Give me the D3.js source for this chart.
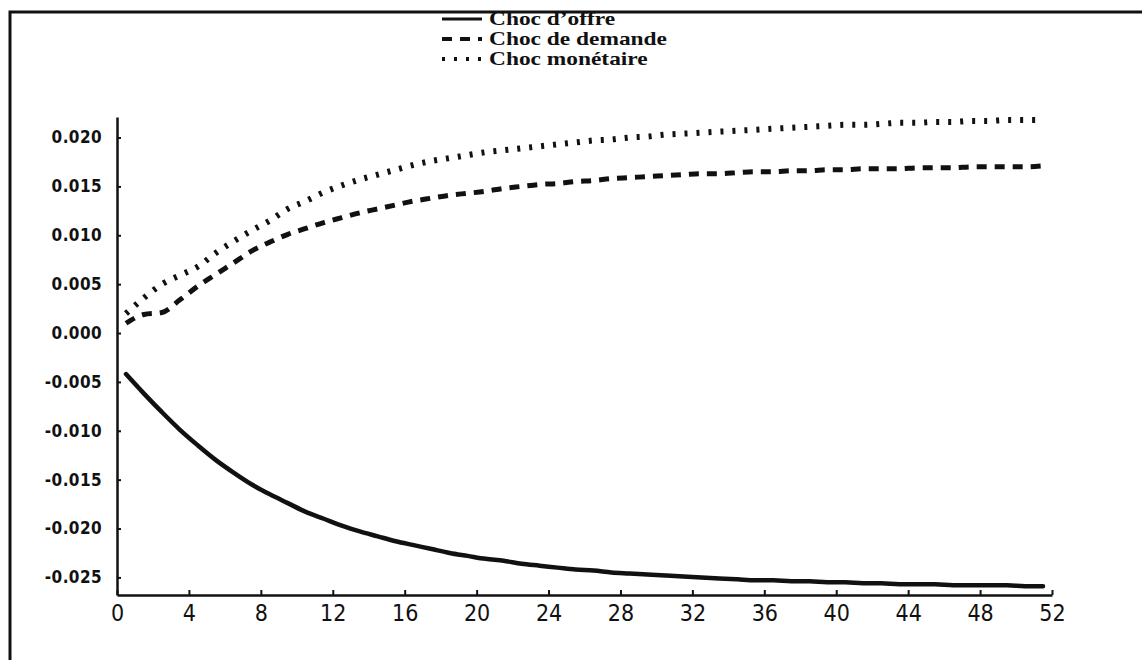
<!DOCTYPE html>
<html>
<head>
<meta charset="utf-8">
<script src="https://cdn.jsdelivr.net/npm/d3@7"></script>
<style>
  body { margin: 0; background: #fff; }
  svg { display: block; }
</style>
</head>
<body>
<div id="chart"></div>
<script>
// periods (quarters after the shock)
const periods = d3.range(52).map(i => i + 0.5);

// Choc d'offre
const offre = [
  -0.0042, -0.0062, -0.0081, -0.0099, -0.0115, -0.0130, -0.0143, -0.0155, -0.0165, -0.0174,
  -0.0183, -0.0190, -0.0197, -0.0203, -0.0208, -0.0213, -0.0217, -0.0221, -0.0225, -0.0228,
  -0.0231, -0.0233, -0.0236, -0.0238, -0.0240, -0.0242, -0.0243, -0.0245, -0.0246, -0.0247,
  -0.0248, -0.0249, -0.0250, -0.0251, -0.0252, -0.0253, -0.0253, -0.0254, -0.0254, -0.0255,
  -0.0255, -0.0256, -0.0256, -0.0257, -0.0257, -0.0257, -0.0258, -0.0258, -0.0258, -0.0258,
  -0.0259, -0.0259
];

// Choc de demande
const demande = [
  0.0010, 0.0019, 0.0021, 0.0034, 0.0048, 0.0060, 0.0072, 0.0084, 0.0093, 0.0101,
  0.0107, 0.0113, 0.0118, 0.0123, 0.0127, 0.0131, 0.0135, 0.0138, 0.0141, 0.0143,
  0.0145, 0.0148, 0.0150, 0.0152, 0.0153, 0.0155, 0.0156, 0.0158, 0.0159, 0.0160,
  0.0161, 0.0162, 0.0163, 0.0163, 0.0164, 0.0165, 0.0165, 0.0166, 0.0166, 0.0167,
  0.0167, 0.0168, 0.0168, 0.0168, 0.0169, 0.0169, 0.0169, 0.0170, 0.0170, 0.0170,
  0.0170, 0.0171
];

// Choc monétaire
const monetaire = [
  0.0020, 0.0036, 0.0050, 0.0059, 0.0068, 0.0082, 0.0094, 0.0105, 0.0115, 0.0127,
  0.0135, 0.0144, 0.0151, 0.0157, 0.0162, 0.0167, 0.0172, 0.0176, 0.0179, 0.0182,
  0.0185, 0.0187, 0.0189, 0.0191, 0.0193, 0.0195, 0.0197, 0.0198, 0.0200, 0.0201,
  0.0203, 0.0204, 0.0205, 0.0206, 0.0207, 0.0208, 0.0209, 0.0210, 0.0211, 0.0212,
  0.0213, 0.0213, 0.0214, 0.0215, 0.0215, 0.0216, 0.0216, 0.0217, 0.0217, 0.0218,
  0.0218, 0.0218
];

const seriesNames = ["Choc d\u2019offre", "Choc de demande", "Choc mon\u00e9taire"];
const xTicks = d3.range(0, 53, 4);
const yTicks = [-0.025, -0.020, -0.015, -0.010, -0.005, 0.000, 0.005, 0.010, 0.015, 0.020];

const width = 1142, height = 660;

const svg = d3.select("#chart")
  .append("svg")
  .attr("width", width)
  .attr("height", height);

// frame (scan border, top and left)
svg.append("path")
  .attr("d", "M10,660 L10,12 L1142,12")
  .attr("fill", "none")
  .attr("stroke", "#111")
  .attr("stroke-width", 3);

// Scales
const x = d3.scaleLinear().domain([0, 52]).range([117, 1052]);
const y = d3.scaleLinear().domain([-0.0268, 0.0221]).range([595, 117]);

// Axes
const xAxis = svg.append("g")
  .attr("transform", `translate(0,${y.range()[0]})`)
  .call(d3.axisBottom(x).tickValues(xTicks).tickSizeInner(-5).tickSizeOuter(0).tickPadding(10).tickFormat(d3.format("d")));

const yAxis = svg.append("g")
  .attr("transform", `translate(${x.range()[0]},0)`)
  .call(d3.axisLeft(y).tickValues(yTicks).tickSizeInner(-4).tickSizeOuter(0).tickPadding(15).tickFormat(d3.format(".3f")));

[xAxis, yAxis].forEach(g => {
  g.select(".domain").attr("stroke", "#111").attr("stroke-width", 2.5);
  g.selectAll(".tick line").attr("stroke", "#111").attr("stroke-width", 2);
});

xAxis.selectAll(".tick text")
  .attr("fill", "#111")
  .style("font-family", "'DejaVu Sans Condensed', 'DejaVu Sans', sans-serif")
  .style("font-size", "23px");

yAxis.selectAll(".tick text")
  .attr("fill", "#111")
  .style("font-family", "'DejaVu Sans Condensed', 'DejaVu Sans', sans-serif")
  .style("font-size", "17px")
  .style("font-weight", "bold")
  .style("letter-spacing", "0.4px")
  .text(d => d3.format(".3f")(d).replace("\u2212", "-"));

// Lines
const styles = [
  { data: offre, dash: null, width: 4.5, cap: "round" },
  { data: demande, dash: "10,8", width: 5, cap: "butt" },
  { data: monetaire, dash: "3,9", width: 6, cap: "butt" }
];

const line = d3.line()
  .x((d, i) => x(periods[i]))
  .y(d => y(d))
  .curve(d3.curveMonotoneX);

svg.append("g").selectAll("path")
  .data(styles)
  .join("path")
  .attr("d", d => line(d.data))
  .attr("fill", "none")
  .attr("stroke", "#111")
  .attr("stroke-width", d => d.width)
  .attr("stroke-linecap", d => d.cap)
  .attr("stroke-dasharray", d => d.dash);

// Legend
const legend = svg.append("g");
const legendY = [19, 39, 59];
styles.forEach((s, i) => {
  legend.append("line")
    .attr("x1", 442).attr("x2", 482)
    .attr("y1", legendY[i]).attr("y2", legendY[i])
    .attr("stroke", "#111")
    .attr("stroke-width", i === 0 ? 3 : 4)
    .attr("stroke-dasharray", s.dash);
  legend.append("text")
    .attr("transform", `translate(489,${legendY[i] + 6}) scale(1.3,1)`)
    .style("font-family", "'Liberation Serif', 'Times New Roman', serif")
    .style("font-weight", "bold")
    .style("font-size", "18px")
    .attr("fill", "#111")
    .text(seriesNames[i]);
});
</script>
</body>
</html>
